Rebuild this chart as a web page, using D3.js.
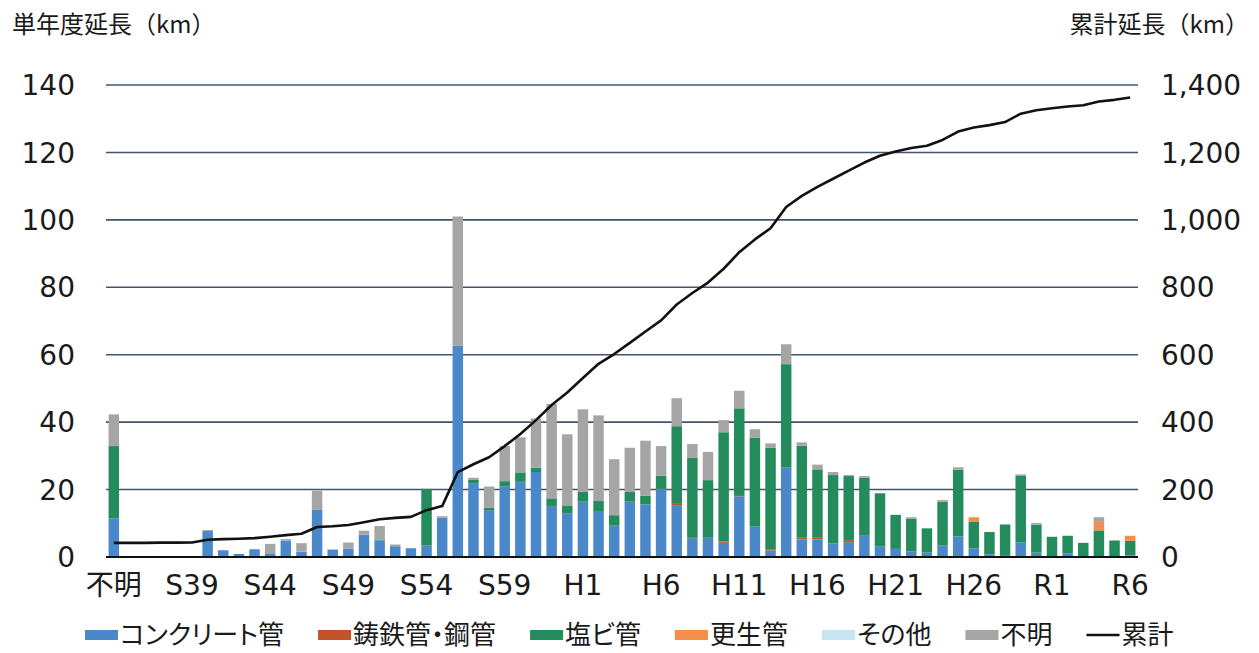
<!DOCTYPE html>
<html lang="ja">
<head>
<meta charset="utf-8">
<script src="https://cdn.jsdelivr.net/npm/d3@7"></script>
<style>
	body { margin: 0; background: #fff; }
	text { font-family: "Noto Sans CJK JP", "Noto Sans", sans-serif; fill: #1a1a1a; }
	text.tick { font-family: "DejaVu Sans", "Noto Sans CJK JP", sans-serif; font-size: 28px; }
	text.legend { font-size: 26px; font-feature-settings: "palt"; }
</style>
</head>
<body>
<div id="chart"></div>
<script>
let categories = ["不明",
	"S35","S36","S37","S38","S39","S40","S41","S42","S43","S44","S45","S46","S47","S48","S49",
	"S50","S51","S52","S53","S54","S55","S56","S57","S58","S59","S60","S61","S62","S63",
	"H1","H2","H3","H4","H5","H6","H7","H8","H9","H10","H11","H12","H13","H14","H15",
	"H16","H17","H18","H19","H20","H21","H22","H23","H24","H25","H26","H27","H28","H29","H30",
	"R1","R2","R3","R4","R5","R6"];
let xLabels = ["不明","S39","S44","S49","S54","S59","H1","H6","H11","H16","H21","H26","R1","R6"];

// 単年度延長 (km)
let concrete = [11.4, 0,0,0,0,0, 7.7,2.0,0.9,2.3,0.9,4.9,1.6,14.0,2.2,2.5,6.6,4.9,3.2,2.6,
	3.4,11.6,62.7,21.9,13.9,20.9,22.3,25.2,15.1,13.0,
	16.4,13.4,9.3,16.4,15.6,20.2,15.4,5.6,5.7,4.2,18.0,9.0,1.9,26.5,5.2,
	5.2,4.0,4.4,6.3,3.2,2.4,1.6,1.3,3.5,6.1,2.5,0.8,0.6,4.3,1.3,
	0.2,1.1,0.2,0,0,0.5];
let castIron = [0, 0,0,0,0,0, 0,0,0,0,0,0,0,0,0,0,0,0,0,0,
	0,0,0,0,0,0,0,0,0,0,
	0,0,0,0,0,0,0.6,0.3,0,0.4,0.4,0,0.4,0,0.5,
	0.5,0,0.6,0,0,0,0,0,0,0,0,0,0,0,0,
	0,0,0,0,0,0];
let pvc = [21.5, 0,0,0,0,0, 0,0,0,0,0,0,0,0,0,0,0,0.3,0,0,
	16.8,0,0,1.1,0.7,1.6,2.8,1.3,2.3,2.3,
	2.9,3.2,3.1,2.9,2.6,3.9,22.8,23.6,17.1,32.4,25.7,26.4,30.1,30.7,27.3,
	20.3,20.3,19.0,17.2,15.7,10.1,9.7,7.2,12.9,19.8,7.9,6.6,9.0,19.9,8.3,
	5.8,5.2,4.0,7.9,4.9,4.3];
let renewal = [0, 0,0,0,0,0, 0,0,0,0,0,0,0,0,0,0,0,0,0,0,
	0,0,0,0,0,0,0,0,0,0,
	0,0,0,0,0,0,0,0,0,0,0,0,0,0,0,
	0,0,0,0,0,0,0,0,0,0,1.4,0,0,0,0,
	0,0,0,2.5,0,1.5];
let other = [0, 0,0,0,0,0, 0,0,0,0,0,0,0,0,0,0,0,0,0,0,
	0,0,0,0,0,0,0,0,0,0,
	0,0,0,0,0,0,0,0,0,0,0,0,0,0,0,
	0,0,0,0,0,0,0,0,0,0,0,0,0,0,0,
	0,0,0,0,0,0];
let unknown = [9.4, 0,0,0.2,0,0.2, 0.3,0,0,0,3.0,0.4,2.5,5.7,0,1.8,1.2,4.0,0.5,0,
	0,0.5,38.3,0.5,6.3,10.4,10.4,14.6,28.0,21.1,
	24.5,25.4,16.6,13.1,16.3,8.8,8.3,4.0,8.4,3.6,5.2,2.5,1.3,5.9,1.0,
	1.4,0.9,0.3,0.5,0,0,0.5,0,0.5,0.7,0,0,0.2,0.3,0.5,
	0,0,0,1.4,0,0];

// 累計延長 (km)
let cumulative = [42, 42,42,42.5,42.5,43, 51,53,54,56,60,65,69,89,91,95,103,112,116,119,
	139,151,252,275,296,329,365,406,451,488,
	531,573,602,635,669,702,749,783,814,855,904,942,975,1038,1071,
	1098,1122,1146,1170,1190,1203,1213,1220,1237,1262,1274,1281,1290,1315,1325,
	1331,1336,1340,1351,1356,1363];

let series = [
	{key: "concrete", name: "コンクリート管", color: "#4a88c9", values: concrete},
	{key: "castIron", name: "鋳鉄管・鋼管", color: "#c0532a", values: castIron},
	{key: "pvc", name: "塩ビ管", color: "#238b5c", values: pvc},
	{key: "renewal", name: "更生管", color: "#f58d4b", values: renewal},
	{key: "other", name: "その他", color: "#c7e4f3", values: other},
	{key: "unknown", name: "不明", color: "#a5a5a5", values: unknown}
];

let width = 1259, height = 653;
let plotL = 106, plotR = 1138, plotT = 85, plotB = 557;

let svg = d3.select("#chart").append("svg")
	.attr("width", width)
	.attr("height", height);

let x = d3.scaleBand()
	.domain(categories)
	.range([plotL, plotR])
	.paddingInner(0.33)
	.paddingOuter(0.165);
let y = d3.scaleLinear().domain([0, 140]).range([plotB, plotT]);
let y2 = d3.scaleLinear().domain([0, 1400]).range([plotB, plotT]);

/* グリッド線 */
svg.append("g")
	.selectAll("line")
	.data(y.ticks(7).filter((d) => d > 0))
	.enter().append("line")
	.attr("x1", plotL).attr("x2", plotR)
	.attr("y1", (d) => y(d)).attr("y2", (d) => y(d))
	.attr("stroke", "#44546a")
	.attr("stroke-width", 1.6);

/* 積み上げ棒 */
let rows = categories.map((c, i) => {
	let r = {cat: c};
	series.forEach((s) => r[s.key] = s.values[i]);
	return r;
});
let stacked = d3.stack().keys(series.map((s) => s.key))(rows);

svg.append("g")
	.selectAll("g")
	.data(stacked)
	.enter().append("g")
	.attr("fill", (d, i) => series[i].color)
	.selectAll("rect")
	.data((d) => d)
	.enter().append("rect")
	.attr("x", (d) => x(d.data.cat))
	.attr("width", x.bandwidth())
	.attr("y", (d) => y(d[1]))
	.attr("height", (d) => Math.max(0, y(d[0]) - y(d[1])));

/* 横軸 */
svg.append("line")
	.attr("x1", plotL).attr("x2", plotR)
	.attr("y1", plotB).attr("y2", plotB)
	.attr("stroke", "#111")
	.attr("stroke-width", 2);

/* 累計線 */
let line = d3.line()
	.x((d, i) => x(categories[i]) + x.bandwidth() / 2)
	.y((d) => y2(d));
svg.append("path")
	.datum(cumulative)
	.attr("d", line)
	.attr("fill", "none")
	.attr("stroke", "#111")
	.attr("stroke-width", 2.6)
	.attr("stroke-linejoin", "round");

/* 軸ラベル */
svg.append("g")
	.selectAll("text")
	.data(y.ticks(7))
	.enter().append("text")
	.attr("class", "tick")
	.attr("x", 75)
	.attr("y", (d) => y(d))
	.attr("dy", "0.36em")
	.attr("text-anchor", "end")
	.text((d) => d);

svg.append("g")
	.selectAll("text")
	.data(y2.ticks(7))
	.enter().append("text")
	.attr("class", "tick")
	.attr("x", 1161)
	.attr("y", (d) => y2(d))
	.attr("dy", "0.36em")
	.text(d3.format(","));

svg.append("g")
	.selectAll("text")
	.data(xLabels)
	.enter().append("text")
	.attr("class", "tick")
	.attr("x", (d) => x(d) + x.bandwidth() / 2)
	.attr("y", 585)
	.attr("dy", "0.36em")
	.attr("text-anchor", "middle")
	.text((d) => d);

svg.append("text")
	.attr("x", 12).attr("y", 33)
	.style("font-size", "24px")
	.text("単年度延長（km）");
svg.append("text")
	.attr("x", 1249).attr("y", 33)
	.attr("text-anchor", "end")
	.style("font-size", "24px")
	.text("累計延長（km）");

/* 凡例 */
let legendItems = series.map((s) => ({name: s.name, color: s.color, type: "rect"}))
	.concat([{name: "累計", color: "#111", type: "line"}]);
let lx = 85, ly = 635;
legendItems.forEach((item) => {
	let g = svg.append("g");
	if (item.type === "rect") {
		g.append("rect")
			.attr("x", lx).attr("y", ly - 5)
			.attr("width", 33).attr("height", 10)
			.attr("fill", item.color);
	} else {
		g.append("line")
			.attr("x1", lx).attr("x2", lx + 33)
			.attr("y1", ly).attr("y2", ly)
			.attr("stroke", item.color)
			.attr("stroke-width", 2.6);
	}
	let t = g.append("text")
		.attr("class", "legend")
		.attr("x", lx + 35).attr("y", ly)
		.attr("dy", "0.36em")
		.text(item.name);
	lx += 35 + t.node().getComputedTextLength() + 34;
});
</script>
</body>
</html>
